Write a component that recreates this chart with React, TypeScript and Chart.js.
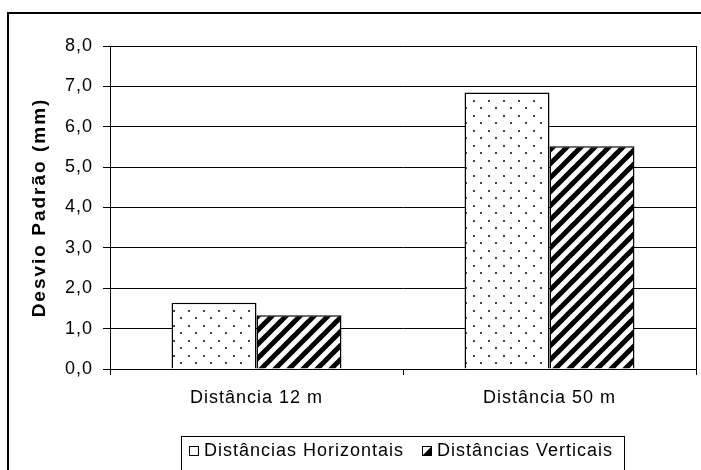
import { useEffect, useRef } from "react";
import { Chart, registerables } from "chart.js";

Chart.register(...registerables);

const categories = ["Distância 12 m", "Distância 50 m"];
const seriesNames = ["Distâncias Horizontais", "Distâncias Verticais"];
const horizontais = [1.64, 6.85];
const verticais = [1.33, 5.52];
const yTickValues = [0, 1, 2, 3, 4, 5, 6, 7, 8];
const yAxisTitle = "Desvio Padrão (mm)";

const FONT = "Arial, 'Liberation Sans', sans-serif";

function makeDotTile(): HTMLCanvasElement {
  const c = document.createElement("canvas");
  c.width = 15;
  c.height = 15;
  const g = c.getContext("2d")!;
  g.fillStyle = "#fff";
  g.fillRect(0, 0, 15, 15);
  g.fillStyle = "#444";
  g.fillRect(8, 10, 2, 2);
  g.fillRect(0, 2, 2, 2);
  return c;
}

function makeHatchTile(): HTMLCanvasElement {
  const c = document.createElement("canvas");
  c.width = 14;
  c.height = 14;
  const g = c.getContext("2d")!;
  g.fillStyle = "#fff";
  g.fillRect(0, 0, 14, 14);
  g.strokeStyle = "#000";
  g.lineWidth = 5;
  g.lineCap = "square";
  const lines = [
    [-7, 7, 7, -7],
    [-2, 16, 16, -2],
    [7, 21, 21, 7],
  ];
  for (const [x1, y1, x2, y2] of lines) {
    g.beginPath();
    g.moveTo(x1, y1);
    g.lineTo(x2, y2);
    g.stroke();
  }
  return c;
}

function makeIcon(kind: number): HTMLCanvasElement {
  const c = document.createElement("canvas");
  c.width = 10;
  c.height = 10;
  const g = c.getContext("2d")!;
  g.fillStyle = "#fff";
  g.fillRect(0, 0, 10, 10);
  if (kind === 1) {
    g.fillStyle = "#000";
    g.beginPath();
    g.moveTo(10, 0);
    g.lineTo(10, 10);
    g.lineTo(0, 10);
    g.closePath();
    g.fill();
  }
  g.strokeStyle = "#000";
  g.lineWidth = 1;
  g.strokeRect(0.5, 0.5, 9, 9);
  return c;
}

export default function App() {
  const ref = useRef<HTMLCanvasElement>(null);

  useEffect(() => {
    const canvas = ref.current!;
    const ctx = canvas.getContext("2d")!;
    const dot = ctx.createPattern(makeDotTile(), "repeat")!;
    const hatch = ctx.createPattern(makeHatchTile(), "repeat")!;
    const icons = [makeIcon(0), makeIcon(1)];

    const spacingPlugin = {
      id: "spacing",
      beforeUpdate(c: any) {
        c.ctx.letterSpacing = "1px";
      },
      beforeLayout(c: any) {
        c.ctx.letterSpacing = "1px";
      },
      beforeDraw(c: any) {
        c.ctx.letterSpacing = "1px";
      },
    };

    const framePlugin = {
      id: "frame",
      afterLayout(c: any) {
        const lg = c.legend;
        if (lg) {
          lg.left = c.chartArea.left;
          lg.right = c.chartArea.right;
          lg.width = lg.right - lg.left;
        }
        const ys = c.scales.y;
        if (ys && !ys.__patched) {
          const orig = ys.drawTitle.bind(ys);
          ys.drawTitle = () => {
            const g = c.ctx;
            g.save();
            g.letterSpacing = "2px";
            orig();
            g.restore();
          };
          ys.__patched = true;
        }
      },
      afterDraw(c: any) {
        const g = c.ctx;
        const ca = c.chartArea;
        g.save();
        g.strokeStyle = "#000";
        // outer frame
        g.lineWidth = 2;
        g.strokeRect(8, 13, 1000, 1000);
        // plot right border
        g.lineWidth = 1;
        const rx = Math.round(ca.right) + 0.5;
        g.beginPath();
        g.moveTo(rx, ca.top);
        g.lineTo(rx, ca.bottom);
        g.stroke();
        // legend box
        const hb = c.legend && c.legend.legendHitBoxes;
        if (hb && hb.length) {
          const first = hb[0];
          const last = hb[hb.length - 1];
          const left = Math.round(first.left - 12) + 0.5;
          const right = Math.round(last.left + last.width + 11) + 0.5;
          const top = Math.round(first.top + first.height / 2 - 15.5) + 0.5;
          g.strokeRect(left, top, right - left, 200);
        }
        g.restore();
      },
    };

    const chart = new Chart(canvas, {
      type: "bar",
      data: {
        labels: categories,
        datasets: [
          {
            label: seriesNames[0],
            data: horizontais,
            backgroundColor: dot,
            borderColor: "#000",
            borderWidth: 1.5,
            barPercentage: 1,
            categoryPercentage: 0.58,
          },
          {
            label: seriesNames[1],
            data: verticais,
            backgroundColor: hatch,
            borderColor: "#000",
            borderWidth: 1.5,
            barPercentage: 1,
            categoryPercentage: 0.58,
          },
        ],
      },
      options: {
        responsive: false,
        maintainAspectRatio: false,
        animation: false,
        devicePixelRatio: 1,
        events: [],
        color: "#000",
        font: { family: FONT, size: 18 },
        layout: { padding: { top: 46, right: 5, bottom: 0, left: 0 } },
        plugins: {
          tooltip: { enabled: false },
          title: { display: false },
          legend: {
            display: true,
            position: "bottom",
            align: "center",
            labels: {
              usePointStyle: true,
              boxWidth: 2,
              boxHeight: 10,
              padding: 22,
              color: "#000",
              font: { family: FONT, size: 18 },
              generateLabels: () =>
                seriesNames.map((name, i) => ({
                  text: name,
                  pointStyle: icons[i],
                  fillStyle: "#fff",
                  strokeStyle: "#000",
                  lineWidth: 0,
                  hidden: false,
                  datasetIndex: i,
                  fontColor: "#000",
                })),
            },
          },
        },
        scales: {
          x: {
            offset: true,
            grid: {
              display: true,
              offset: true,
              drawOnChartArea: false,
              drawTicks: true,
              tickLength: 6,
              color: "#000",
            },
            border: { display: true, color: "#000", width: 1 },
            ticks: {
              color: "#000",
              padding: 12,
              font: { family: FONT, size: 18 },
              maxRotation: 0,
            },
            afterFit: (s: any) => {
              s.height = 51;
            },
          },
          y: {
            min: 0,
            max: 8,
            afterBuildTicks: (s: any) => {
              s.ticks = yTickValues.map((v) => ({ value: v }));
            },
            grid: {
              color: "#000",
              lineWidth: 1,
              drawTicks: true,
              tickLength: 7,
            },
            border: { display: true, color: "#000", width: 1 },
            ticks: {
              color: "#000",
              padding: 10,
              font: { family: FONT, size: 18 },
              callback: (v: any) => Number(v).toFixed(1).replace(".", ","),
            },
            title: {
              display: true,
              text: yAxisTitle,
              color: "#000",
              font: { family: FONT, size: 19, weight: "bold" },
              padding: { top: 28, bottom: 0 },
            },
            afterFit: (s: any) => {
              s.width = 110;
            },
          },
        },
      },
      plugins: [spacingPlugin, framePlugin],
    } as any);

    return () => {
      chart.destroy();
    };
  }, []);

  return (
    <canvas
      ref={ref}
      width={701}
      height={470}
      style={{ display: "block", position: "absolute", left: 0, top: 0 }}
    />
  );
}
